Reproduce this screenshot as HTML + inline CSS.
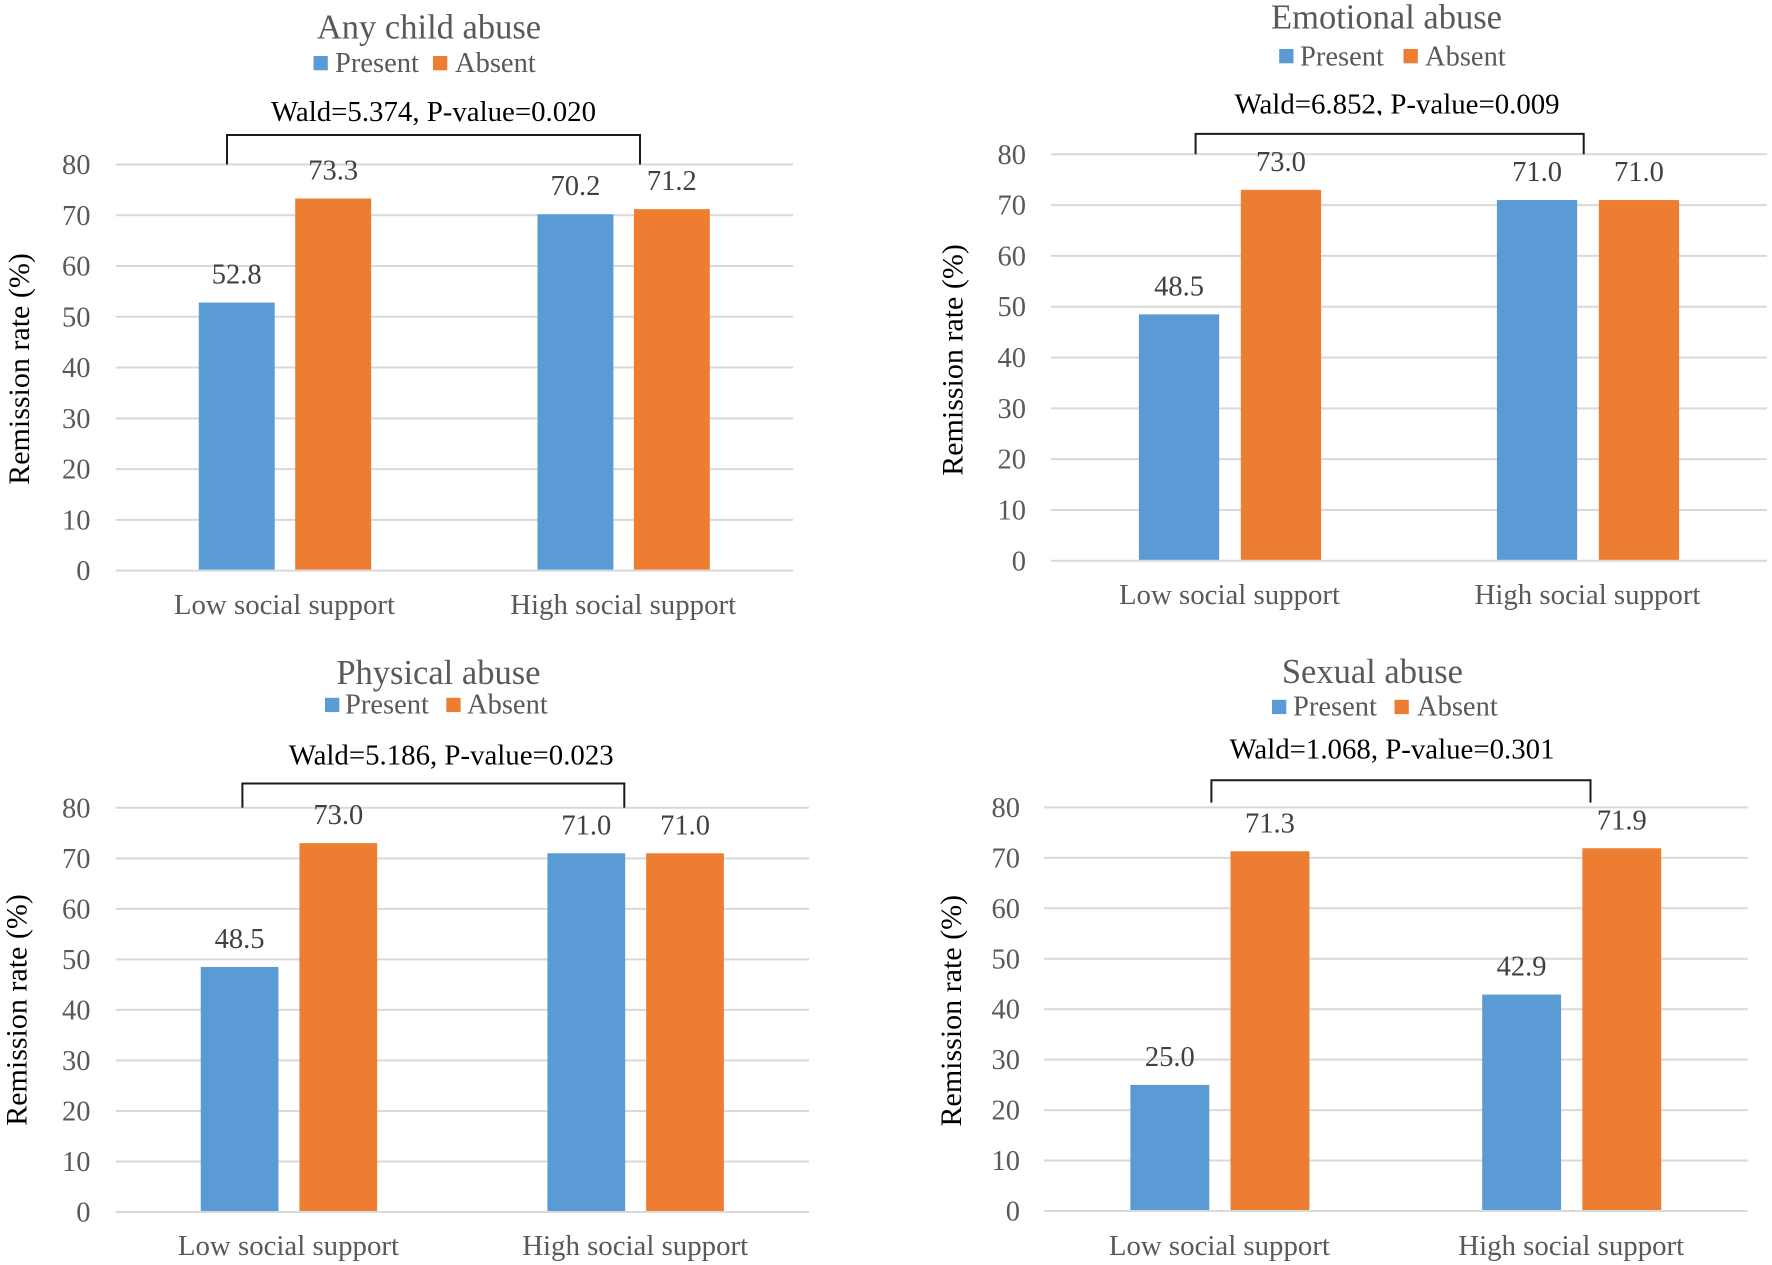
<!DOCTYPE html>
<html lang="en">
<head>
<meta charset="utf-8">
<title>Remission rate by child abuse and social support</title>
<style>
  html, body { margin: 0; padding: 0; background: #fff; }
  body { width: 1772px; height: 1265px; overflow: hidden; }
  svg { display: block; font-family: "Liberation Serif", "Times New Roman", serif; }
</style>
</head>
<body>
<svg id="figure" xmlns="http://www.w3.org/2000/svg" width="1772" height="1265" viewBox="0 0 1772 1265"></svg>
<script>
const panelTitles = ["Any child abuse", "Emotional abuse", "Physical abuse", "Sexual abuse"];
const panelKeys = ["any-child-abuse", "emotional-abuse", "physical-abuse", "sexual-abuse"];
const waldLabels = [
  "Wald=5.374, P-value=0.020",
  "Wald=6.852, P-value=0.009",
  "Wald=5.186, P-value=0.023",
  "Wald=1.068, P-value=0.301"
];
const categories = ["Low social support", "High social support"];
const seriesNames = ["Present", "Absent"];
const presentValues = [
  [52.8, 70.2],
  [48.5, 71.0],
  [48.5, 71.0],
  [25.0, 42.9]
];
const absentValues = [
  [73.3, 71.2],
  [73.0, 71.0],
  [73.0, 71.0],
  [71.3, 71.9]
];
const yTicks = [0, 10, 20, 30, 40, 50, 60, 70, 80];
const yAxisTitle = "Remission rate (%)";

const seriesColors = ["#5B9BD5", "#ED7D31"];
const svg = document.getElementById("figure");
const NS = "http://www.w3.org/2000/svg";

const panelLayouts = [
  { left: 115.6, right: 793, top: 164.5, bottom: 570.6, titleX: 429, titleY: 38.3,
    legendY: 56, legendBaseline: 72, legendSwatchX: [313.5, 433], legendTextX: [335, 455],
    waldX: 271, waldY: 121, bracketL: 227, bracketR: 640, bracketTop: 135, bracketBottom: 164.5,
    tickRight: 90.5, catY: 614, axisTitleX: 29, axisTitleY: 369 },
  { left: 1051, right: 1767, top: 154.3, bottom: 560.8, titleX: 1386.5, titleY: 28.6,
    legendY: 49, legendBaseline: 65.3, legendSwatchX: [1279.2, 1403.5], legendTextX: [1300, 1425],
    waldX: 1234.6, waldY: 113.5, bracketL: 1195.6, bracketR: 1583.7, bracketTop: 133.9, bracketBottom: 154.3,
    tickRight: 1026, catY: 604, axisTitleX: 962.5, axisTitleY: 360, clipWald: true },
  { left: 115.6, right: 809, top: 807.8, bottom: 1212, titleX: 438.4, titleY: 684,
    legendY: 697.8, legendBaseline: 713.7, legendSwatchX: [325, 446.3], legendTextX: [345, 467],
    waldX: 288.7, waldY: 764.4, bracketL: 242.4, bracketR: 624.3, bracketTop: 783.5, bracketBottom: 807.8,
    tickRight: 90.5, catY: 1255, axisTitleX: 26.4, axisTitleY: 1010 },
  { left: 1044, right: 1747.6, top: 807.4, bottom: 1211, titleX: 1372.4, titleY: 682.8,
    legendY: 699.8, legendBaseline: 715.7, legendSwatchX: [1272, 1394.5], legendTextX: [1293, 1417],
    waldX: 1229.5, waldY: 758.4, bracketL: 1211.4, bracketR: 1590.5, bracketTop: 780.3, bracketBottom: 802.6,
    tickRight: 1020, catY: 1255, axisTitleX: 961, axisTitleY: 1010.7 }
];

function make(tag, attrs, text) {
  const node = document.createElementNS(NS, tag);
  for (const key in attrs) node.setAttribute(key, attrs[key]);
  if (text !== undefined) node.textContent = text;
  return node;
}

function drawPanel(index) {
  const box = panelLayouts[index];
  const key = panelKeys[index];
  const yMax = yTicks[yTicks.length - 1];
  const yScale = v => box.bottom - (v / yMax) * (box.bottom - box.top);
  const band = (box.right - box.left) / categories.length;
  const barWidth = band * 0.2242;
  const barGap = band * 0.0605;
  const barX = (groupIndex, seriesIndex) => {
    const centre = box.left + band * (groupIndex + 0.5);
    return seriesIndex === 0 ? centre - barGap / 2 - barWidth : centre + barGap / 2;
  };

  const group = make("g", {});
  
  
  svg.appendChild(group);

  const title = make("text", { x: box.titleX, y: box.titleY, "text-anchor": "middle", "font-size": 34.5, fill: "#595959" }, panelTitles[index]);
  
  
  group.appendChild(title);

  seriesNames.forEach((name, s) => {
    const swatch = make("rect", { x: box.legendSwatchX[s], y: box.legendY, width: 14.3, height: 14.3, fill: seriesColors[s] });
    
    
    group.appendChild(swatch);
    const label = make("text", { x: box.legendTextX[s], y: box.legendBaseline, "font-size": 28.5, fill: "#595959" }, name);
    
    
    group.appendChild(label);
  });

  const wald = make("text", { x: box.waldX, y: box.waldY, "font-size": 28.85, fill: "#000" }, waldLabels[index]);
  
  
  group.appendChild(wald);

  if (box.clipWald) {
    const mask = make("rect", { x: box.waldX, y: box.waldY + 2, width: 330, height: 10, fill: "#fff" });
    
    
    group.appendChild(mask);
  }

  yTicks.forEach(tick => {
    const gridline = make("line", { x1: box.left, x2: box.right, y1: yScale(tick), y2: yScale(tick), stroke: "#D9D9D9", "stroke-width": 2 });
    
    
    group.appendChild(gridline);
    const tickLabel = make("text", { x: box.tickRight, y: yScale(tick) + 9.5, "text-anchor": "end", "font-size": 28.5, fill: "#595959" }, String(tick));
    
    
    group.appendChild(tickLabel);
  });

  const bracket = make("path", {
    d: "M" + box.bracketL + " " + box.bracketBottom + "V" + box.bracketTop + "H" + box.bracketR + "V" + box.bracketBottom,
    fill: "none", stroke: "#1a1a1a", "stroke-width": 2
  });
  
  
  group.appendChild(bracket);

  [presentValues[index], absentValues[index]].forEach((values, s) => {
    values.forEach((value, c) => {
      const x = barX(c, s);
      const bar = make("rect", { x: x, y: yScale(value), width: barWidth, height: yScale(0) - 1 - yScale(value), fill: seriesColors[s] });
      
      
      group.appendChild(bar);
      const valueLabel = make("text", { x: x + barWidth / 2, y: yScale(value) - 19, "text-anchor": "middle", "font-size": 28.5, fill: "#404040" }, value.toFixed(1));
      
      
      group.appendChild(valueLabel);
    });
  });

  categories.forEach((category, c) => {
    const catLabel = make("text", { x: box.left + band * (c + 0.5) - 0.5, y: box.catY, "text-anchor": "middle", "font-size": 28.85, fill: "#595959" }, category);
    
    
    group.appendChild(catLabel);
  });

  const axisTitle = make("text", {
    x: 0, y: 0, "text-anchor": "middle", "font-size": 30, fill: "#000",
    transform: "translate(" + box.axisTitleX + " " + box.axisTitleY + ") rotate(-90)"
  }, yAxisTitle);
  
  
  group.appendChild(axisTitle);
}

panelTitles.forEach((_, i) => drawPanel(i));
</script>
</body>
</html>
